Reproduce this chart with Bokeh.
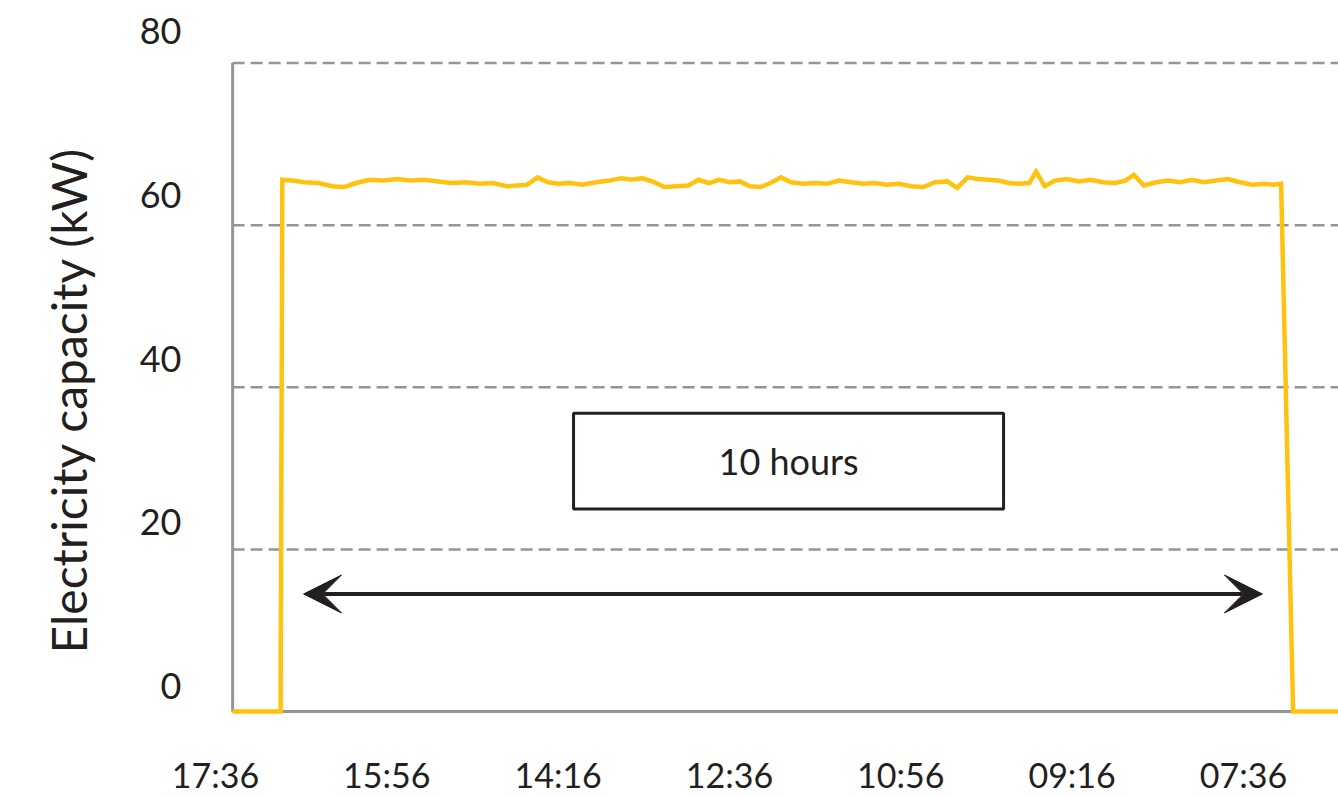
from bokeh.plotting import figure
from bokeh.models import (Range1d, LinearAxis, FixedTicker, BoxAnnotation, Label, Arrow, VeeHead,
                          Title)
from bokeh.embed import file_html
from bokeh.resources import INLINE

# elapsed minutes from the first tick (17:36) and measured capacity in kW
minutes = [10, 38, 39, 45, 52, 60, 68, 75, 82, 90, 98, 106, 114, 122, 130, 138, 146, 154,
           162, 170, 176, 182, 188, 194, 200, 207, 214, 222, 230, 237, 243, 249, 256, 262,
           269, 276, 282, 288, 294, 300, 306, 312, 318, 324, 330, 336, 343, 350, 357, 364,
           371, 378, 385, 392, 399, 406, 413, 420, 427, 433, 439, 445, 451, 457, 463, 469,
           475, 479, 484, 490, 497, 504, 511, 518, 525, 531, 536, 542, 549, 556, 563, 570,
           577, 584, 591, 598, 605, 612, 617, 622, 629, 665]
capacity_kw = [0, 0, 65.6, 65.5, 65.3, 65.2, 64.8, 64.7, 65.2, 65.6, 65.5, 65.7, 65.5, 65.6,
               65.4, 65.2, 65.3, 65.1, 65.2, 64.8, 64.9, 65.0, 65.9, 65.3, 65.1, 65.2, 65.0,
               65.3, 65.5, 65.8, 65.6, 65.8, 65.3, 64.7, 64.8, 64.9, 65.6, 65.2, 65.6, 65.3,
               65.4, 64.8, 64.7, 65.2, 65.9, 65.3, 65.1, 65.2, 65.1, 65.5, 65.3, 65.1, 65.2,
               65.0, 65.1, 64.8, 64.7, 65.3, 65.4, 64.6, 65.9, 65.7, 65.6, 65.5, 65.2, 65.1,
               65.2, 66.6, 64.8, 65.5, 65.7, 65.4, 65.6, 65.3, 65.2, 65.5, 66.2, 64.9, 65.3,
               65.5, 65.3, 65.6, 65.3, 65.5, 65.7, 65.3, 65.0, 65.1, 65.0, 65.1, 0, 0]

tick_minutes = [0, 100, 200, 300, 400, 500, 600]
tick_labels = ["17:36", "15:56", "14:16", "12:36", "10:56", "09:16", "07:36"]
y_ticks = [0, 20, 40, 60, 80]
grid_levels = [20, 40, 60, 80]
y_title = "Electricity capacity (kW)"

duration_label = "10 hours"
arrow_from, arrow_to, arrow_level = 51.4, 611.1, 14.5
box_left, box_right, box_bottom, box_top = 209.0, 460.0, 25.0, 36.8

FONT = "Lato"
TXT = "#231f20"
GREY = "#939598"
YELLOW = "#FFC20E"

p = figure(width=1338, height=797, output_backend="svg", toolbar_location=None,
           x_range=Range1d(-11.67, 655.5), y_range=Range1d(-0.489, 85.25),
           y_axis_location=None,
           min_border_left=195, min_border_right=0, min_border_top=20, min_border_bottom=75)
p.outline_line_color = None
p.background_fill_color = "white"
p.border_fill_color = "white"
p.grid.visible = False

# y labels on an axis of their own
p.extra_y_ranges = {"lab": Range1d(-3.631, 81.33)}
yax = LinearAxis(y_range_name="lab", ticker=FixedTicker(ticks=y_ticks))
yax.axis_line_color = None
yax.major_tick_line_color = None
yax.minor_tick_line_color = None
yax.major_label_standoff = 8
yax.major_label_text_font = FONT
yax.major_label_text_font_size = "36px"
yax.major_label_text_color = TXT
p.add_layout(yax, "left")

# y-axis title
p.add_layout(Title(text=y_title, align="left", offset=62, vertical_align="top",
                   standoff=76, text_font=FONT, text_font_size="48px",
                   text_font_style="normal", text_color=TXT), "left")

xax = p.xaxis[0]
xax.ticker = FixedTicker(ticks=tick_minutes)
xax.major_label_overrides = {t: lab for t, lab in zip(tick_minutes, tick_labels)}
xax.axis_line_color = None
xax.major_tick_line_color = None
xax.minor_tick_line_color = None
xax.major_label_standoff = 32
xax.major_label_text_font = FONT
xax.major_label_text_font_size = "34px"
xax.major_label_text_color = TXT

x_start = minutes[0]
x_far = minutes[-1]

# dashed gridlines
p.segment(x0=[x_start] * len(grid_levels), y0=grid_levels,
          x1=[x_far] * len(grid_levels), y1=grid_levels,
          line_color=GREY, line_width=2.5, line_dash="12 6")
# axis lines
p.segment(x0=[x_start, x_start], y0=[0, 0], x1=[x_start, x_far], y1=[y_ticks[-1], 0],
          line_color=GREY, line_width=3)

p.line(minutes, capacity_kw, line_color=YELLOW, line_width=4.5, line_join="miter")

p.add_layout(BoxAnnotation(left=box_left, right=box_right, bottom=box_bottom, top=box_top,
                           fill_color=None, fill_alpha=0, line_color=TXT, line_alpha=1,
                           line_width=3))
p.add_layout(Label(x=(box_left + box_right) / 2, y=(box_bottom + box_top) / 2,
                   text=duration_label, text_align="center", text_baseline="middle",
                   text_font=FONT, text_font_size="36px", text_color=TXT))
p.add_layout(Arrow(x_start=arrow_from, y_start=arrow_level, x_end=arrow_to, y_end=arrow_level,
                   line_color=TXT, line_width=4,
                   start=VeeHead(size=38, fill_color=TXT, line_color=TXT, line_width=1),
                   end=VeeHead(size=38, fill_color=TXT, line_color=TXT, line_width=1)))

open("out.html", "w").write(file_html(p, INLINE))
